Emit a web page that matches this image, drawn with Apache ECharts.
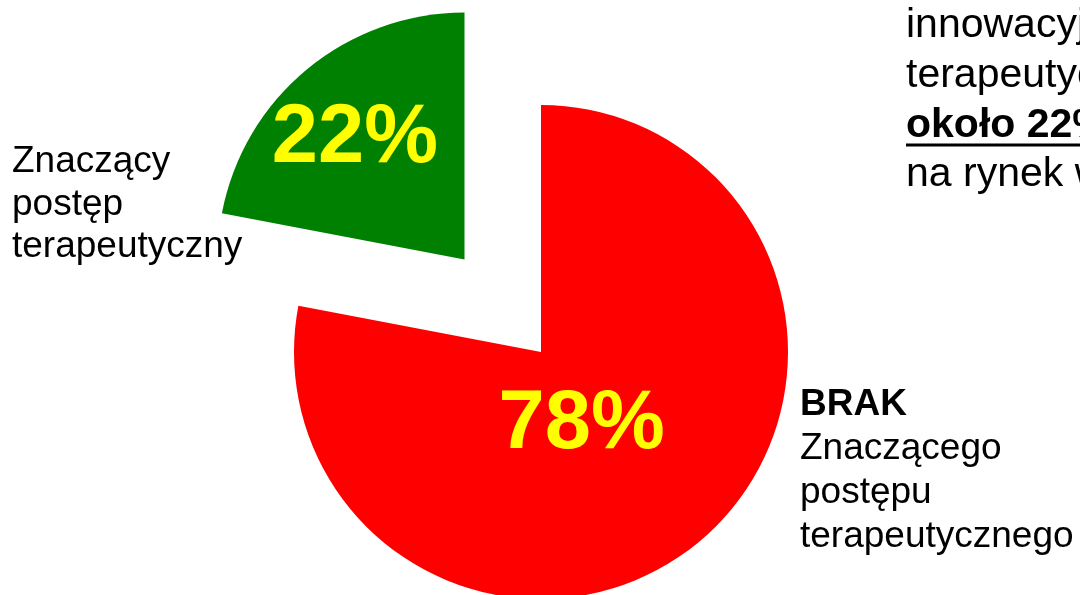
<!DOCTYPE html>
<html>
<head>
<meta charset="utf-8">
<script src="https://cdn.jsdelivr.net/npm/echarts@6/dist/echarts.min.js"></script>
<style>html,body{margin:0;padding:0;background:#fff;}#c{width:1080px;height:595px;}</style>
</head>
<body>
<div id="c"></div>
<script>
const categories = ['BRAK Znaczącego postępu terapeutycznego', 'Znaczący postęp terapeutyczny'];
const values = [78, 22];
const colors = ['#FF0000', '#008000'];
const leftLabelLines = ['Znaczący', 'postęp', 'terapeutyczny'];
const rightLabelBold = 'BRAK';
const rightLabelLines = ['Znaczącego', 'postępu', 'terapeutycznego'];
const noteLines = ['innowacyjnych', 'terapeutycznie'];
const noteBold = 'około 22%';
const noteLast = 'na rynek w';

const FONT = '"Liberation Sans", Arial, sans-serif';
const labelShift = [[-40, -24], [-29, -23]];

const chart = echarts.init(document.getElementById('c'), null, {renderer: 'canvas'});
chart.setOption({
  backgroundColor: '#ffffff',
  animation: false,
  series: [{
    type: 'pie',
    center: [541, 352],
    radius: 247,
    startAngle: 90,
    clockwise: true,
    selectedMode: 'single',
    selectedOffset: 120,
    avoidLabelOverlap: false,
    emphasis: {disabled: true},
    itemStyle: {borderWidth: 0},
    label: {
      show: true,
      position: 'inside',
      formatter: p => p.value + '%',
      color: '#FFFF00',
      fontFamily: FONT,
      fontWeight: 'bold',
      fontSize: 83
    },
    labelLine: {show: false},
    labelLayout: p => ({dx: labelShift[p.dataIndex][0], dy: labelShift[p.dataIndex][1]}),
    data: categories.map((c, i) => ({
      name: c,
      value: values[i],
      selected: i === 1,
      itemStyle: {color: colors[i]}
    }))
  }],
  graphic: [
    {
      type: 'text', left: 12, top: 141,
      style: {text: leftLabelLines.join('\n'), font: '37px ' + FONT, fill: '#000', lineHeight: 42.5}
    },
    {
      type: 'text', left: 800, top: 386,
      style: {
        text: '{b|' + rightLabelBold + '}\n{n|' + rightLabelLines.join('}\n{n|') + '}',
        fill: '#000',
        rich: {
          b: {font: 'bold 37px ' + FONT, lineHeight: 44, fill: '#000'},
          n: {font: '37px ' + FONT, lineHeight: 44, fill: '#000'}
        }
      }
    },
    {
      type: 'text', left: 906, top: 1,
      style: {text: noteLines.join('\n'), font: '41px ' + FONT, fill: '#000', lineHeight: 50}
    },
    {
      type: 'text', left: 906, top: 101,
      style: {text: noteBold, font: 'bold 41px ' + FONT, fill: '#000', lineHeight: 50}
    },
    {
      type: 'line', shape: {x1: 906, y1: 145, x2: 1080, y2: 145},
      style: {stroke: '#000', lineWidth: 3}
    },
    {
      type: 'text', left: 906, top: 150,
      style: {text: noteLast, font: '41px ' + FONT, fill: '#000', lineHeight: 50}
    }
  ]
});
</script>
</body>
</html>
